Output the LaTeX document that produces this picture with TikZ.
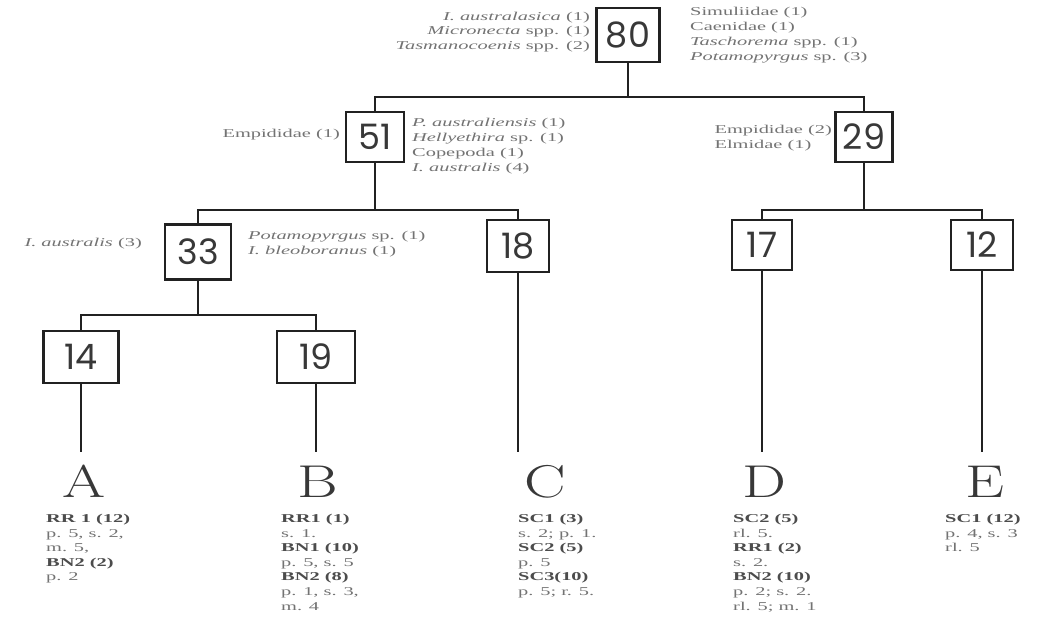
\documentclass[tikz,border=0pt]{standalone}
\usepackage{fontspec}
\newfontfamily\sm[FakeStretch=1.7]{Liberation Serif}
\newfontfamily\boxfont[Numbers=Monospaced]{Poppins}
\newfontfamily\letfont[FakeStretch=1.35]{Latin Modern Roman}
\definecolor{linec}{gray}{0.13}
\definecolor{numc}{gray}{0.22}
\definecolor{txtc}{gray}{0.45}
\definecolor{boldc}{gray}{0.3}
\tikzset{
  num/.style={draw=linec, line width=2.4pt, minimum width=62pt, minimum height=52pt, inner sep=0pt, font=\boxfont\fontsize{35}{35}\selectfont, text=numc},
  lbl/.style={font=\sm\fontsize{12}{14.8}\selectfont, text=txtc, inner sep=0pt},
  sitelet/.style={font=\letfont\fontsize{46}{46}\selectfont, text=numc, inner sep=0pt, anchor=base},
  sitetxt/.style={font=\sm\fontsize{12}{14.6}\selectfont, text=txtc, inner sep=0pt, anchor=north west, align=left},
  conn/.style={draw=linec, line width=2.4pt}
}
\newcommand{\bb}[1]{{\bfseries\color{boldc}#1}}
\begin{document}
\begin{tikzpicture}[x=1pt,y=-1pt]
\useasboundingbox[fill=white] (0,0) rectangle (1062,636);
% boxes
\node[num, minimum width=63pt, minimum height=54pt] (n80) at (628,35) {80};
\node[num, minimum width=58pt, minimum height=50pt] (n51) at (375,137) {51};
\node[num, minimum width=57pt, minimum height=50pt] (n29) at (864,137) {29};
\node[num, minimum width=66pt, minimum height=55pt] (n33) at (198,252) {33};
\node[num, minimum width=62pt, minimum height=52pt] (n18) at (518,246) {18};
\node[num, minimum width=60pt, minimum height=50pt] (n17) at (762,245) {17};
\node[num, minimum width=62pt, minimum height=50pt] (n12) at (982,245) {12};
\node[num, minimum width=75pt, minimum height=52pt] (n14) at (81,357) {14};
\node[num, minimum width=78pt, minimum height=52pt] (n19) at (316,357) {19};
% split levels
\coordinate (s1) at (0,97);
\coordinate (s2) at (0,210);
\coordinate (s3) at (0,315);
\coordinate (s4) at (0,452);
% connectors
\draw[conn] (n80.south) -- (n80.south |- s1) -| (n51.north);
\draw[conn] (n80.south |- s1) -| (n29.north);
\draw[conn] (n51.south) -- (n51.south |- s2) -| (n33.north);
\draw[conn] (n51.south |- s2) -| (n18.north);
\draw[conn] (n29.south) -- (n29.south |- s2) -| (n17.north);
\draw[conn] (n29.south |- s2) -| (n12.north);
\draw[conn] (n33.south) -- (n33.south |- s3) -| (n14.north);
\draw[conn] (n33.south |- s3) -| (n19.north);
% site letters
\node[sitelet] (A) at (84,497) {A};
\node[sitelet] (B) at (318,497) {B};
\node[sitelet] (C) at (545,497) {C};
\node[sitelet] (D) at (764,497) {D};
\node[sitelet] (E) at (985,497) {E};
\draw[conn] (n14.south) -- (n14.south |- s4);
\draw[conn] (n19.south) -- (n19.south |- s4);
\draw[conn] (n18.south) -- (n18.south |- s4);
\draw[conn] (n17.south) -- (n17.south |- s4);
\draw[conn] (n12.south) -- (n12.south |- s4);
% species labels
\node[lbl, anchor=east, align=right] (l80) at (590,32) {\textit{I. australasica} (1)\\\textit{Micronecta} spp. (1)\\\textit{Tasmanocoenis} spp. (2)};
\node[lbl, anchor=west, align=left] (r80) at (690,35) {Simuliidae (1)\\Caenidae (1)\\\textit{Taschorema} spp. (1)\\\textit{Potamopyrgus} sp. (3)};
\node[lbl, anchor=east, align=right] (l51) at (340,135) {Empididae (1)};
\node[lbl, anchor=west, align=left] (r51) at (412,146) {\textit{P. australiensis} (1)\\\textit{Hellyethira} sp. (1)\\Copepoda (1)\\\textit{I. australis} (4)};
\node[lbl, anchor=east, align=left] (l29) at (832,138) {Empididae (2)\\Elmidae (1)};
\node[lbl, anchor=east, align=right] (l33) at (142,244) {\textit{I. australis} (3)};
\node[lbl, anchor=west, align=left] (r33) at (248,244) {\textit{Potamopyrgus} sp. (1)\\\textit{I. bleoboranus} (1)};
% site descriptions
\node[sitetxt] (tA) at (46,514) {\bb{RR 1 (12)}\\p. 5, s. 2,\\m. 5,\\\bb{BN2 (2)}\\p. 2};
\node[sitetxt] (tB) at (281,514) {\bb{RR1 (1)}\\s. 1.\\\bb{BN1 (10)}\\p. 5, s. 5\\\bb{BN2 (8)}\\p. 1, s. 3,\\m. 4};
\node[sitetxt] (tC) at (518,514) {\bb{SC1 (3)}\\s. 2; p. 1.\\\bb{SC2 (5)}\\p. 5\\\bb{SC3(10)}\\p. 5; r. 5.};
\node[sitetxt] (tD) at (733,514) {\bb{SC2 (5)}\\rl. 5.\\\bb{RR1 (2)}\\s. 2.\\\bb{BN2 (10)}\\p. 2; s. 2.\\rl. 5; m. 1};
\node[sitetxt] (tE) at (945,514) {\bb{SC1 (12)}\\p. 4, s. 3\\rl. 5};
\end{tikzpicture}
\end{document}
